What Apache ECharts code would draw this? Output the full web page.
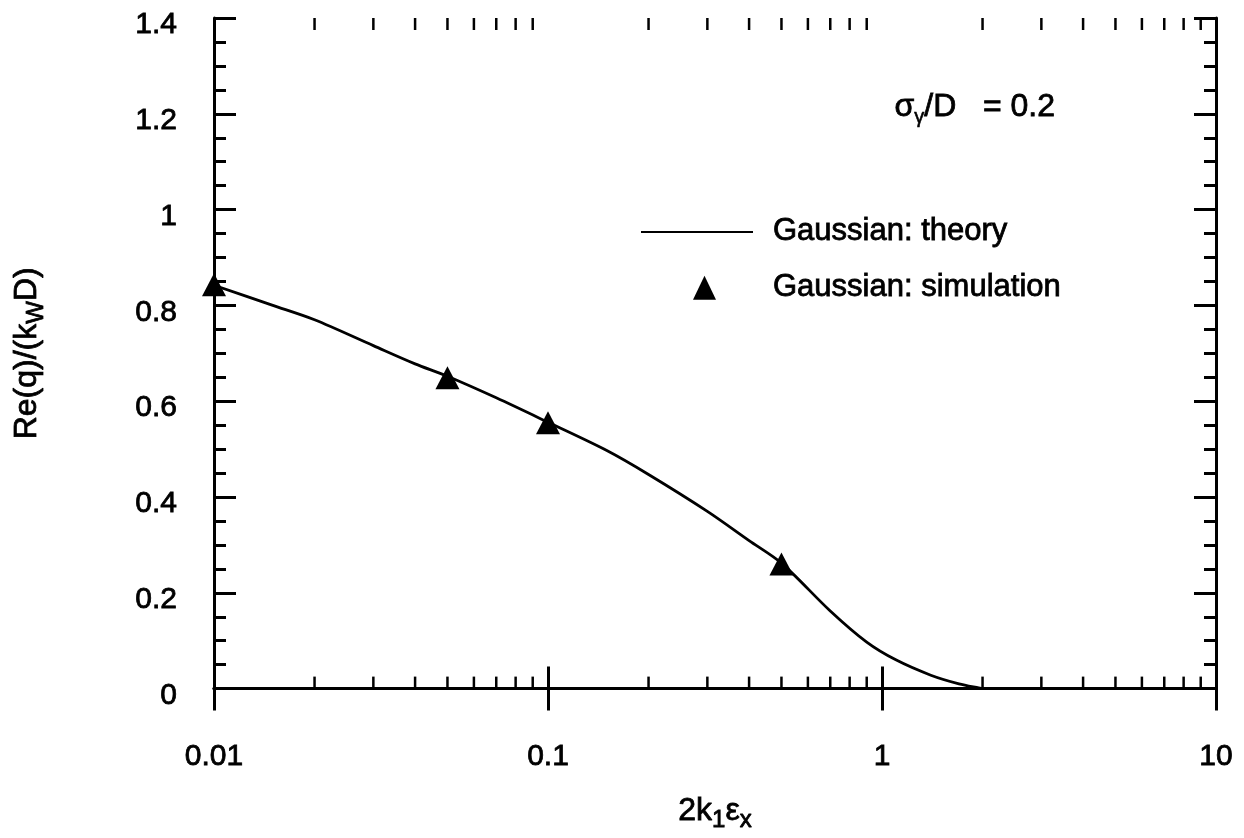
<!DOCTYPE html>
<html>
<head>
<meta charset="utf-8">
<script src="https://cdn.jsdelivr.net/npm/echarts@6/dist/echarts.min.js"></script>
<style>
  html, body { margin: 0; padding: 0; background: #fff; }
  #chart { width: 1244px; height: 838px; }
</style>
</head>
<body>
<div id="chart"></div>
<script>
// theory curve
const theoryX = [0.01, 0.015, 0.02, 0.03, 0.04, 0.05, 0.07, 0.1, 0.15, 0.2, 0.3, 0.4, 0.5, 0.7, 0.9, 1.1, 1.4, 1.7, 2.0];
const theoryY = [0.842, 0.80, 0.77, 0.716, 0.678, 0.652, 0.607, 0.556, 0.497, 0.447, 0.37, 0.309, 0.262, 0.162, 0.097, 0.06, 0.028, 0.01, 0.0];

// simulation points
const simX = [0.01, 0.05, 0.1, 0.5];
const simY = [0.843, 0.649, 0.555, 0.26];

const xTickLabels = ['0.01', '0.1', '1', '10'];
const yTickLabels = ['0', '0.2', '0.4', '0.6', '0.8', '1', '1.2', '1.4'];
// minor ticks of the log axis (2..9 in each decade)
const xMinorTicks = [0.02, 0.03, 0.04, 0.05, 0.06, 0.07, 0.08, 0.09,
  0.2, 0.3, 0.4, 0.5, 0.6, 0.7, 0.8, 0.9,
  2, 3, 4, 5, 6, 7, 8, 9];

const FONT = '"Liberation Sans", Arial, Helvetica, sans-serif';
const INK = '#000';
// thin outline so the text gets the heavy look of the scan
const heavy = { textBorderColor: INK, textBorderWidth: 0.8 };

// legend icon: a triangle inside an invisible 112x24 box so it is not stretched
const TRI_ICON = 'path://M0,0M112,24M52,24L63.5,0L75,24Z';

const chart = echarts.init(document.getElementById('chart'), null, { renderer: 'canvas' });

const axisLine = { show: true, lineStyle: { color: INK, width: 3 } };
const majorTick = { show: true, inside: true, length: 22, lineStyle: { color: INK, width: 3 } };
const minorTickY = { show: true, splitNumber: 4, length: 12, lineStyle: { color: INK, width: 3 } };

const xAxisBase = {
  type: 'log',
  logBase: 10,
  min: 0.01,
  max: 10,
  axisLine: axisLine,
  axisTick: majorTick,
  splitLine: { show: false },
};
const yAxisBase = {
  type: 'value',
  min: 0,
  max: 1.4,
  interval: 0.2,
  axisLine: axisLine,
  axisTick: majorTick,
  minorTick: minorTickY,
  splitLine: { show: false },
};

const option = {
  backgroundColor: '#fff',
  animation: false,
  textStyle: { fontFamily: FONT, color: INK },
  grid: { left: 214, right: 28, top: 18, bottom: 147 },
  legend: {
    data: [
      { name: 'Gaussian: theory', itemStyle: { opacity: 0 } },
      { name: 'Gaussian: simulation', icon: TRI_ICON, itemStyle: { color: INK, opacity: 1 } },
    ],
    orient: 'vertical',
    left: 640,
    top: 216,
    padding: 0,
    itemWidth: 112,
    itemHeight: 24,
    itemGap: 24,
    textStyle: { fontFamily: FONT, fontSize: 31, color: INK, padding: [0, 0, 0, 15], ...heavy },
  },
  xAxis: [
    {
      ...xAxisBase,
      position: 'bottom',
      axisLabel: {
        fontFamily: FONT, fontSize: 30, color: INK, margin: 53, ...heavy,
        formatter: (v, i) => xTickLabels[i] ?? '',
      },
      name: '{n|2k}{s|1}{n|ε}{s|x}',
      nameLocation: 'middle',
      nameGap: 102,
      nameTextStyle: {
        rich: {
          n: { fontFamily: FONT, fontSize: 32, color: INK, ...heavy },
          s: { fontFamily: FONT, fontSize: 24, color: INK, padding: [18, 0, 0, 0], ...heavy },
        },
      },
    },
    {
      ...xAxisBase,
      position: 'top',
      axisLabel: { show: false },
    },
  ],
  yAxis: [
    {
      ...yAxisBase,
      position: 'left',
      axisLabel: {
        margin: 37,
        formatter: (v, i) => '{t|' + (yTickLabels[i] ?? '') + '}',
        rich: {
          t: { fontFamily: FONT, fontSize: 30, color: INK, padding: [14, 0, 0, 0], ...heavy },
        },
      },
      name: '{n|Re(q)/(k}{s|W}{n|D)}',
      nameLocation: 'middle',
      nameGap: 166,
      nameTextStyle: {
        rich: {
          n: { fontFamily: FONT, fontSize: 32, color: INK, ...heavy },
          s: { fontFamily: FONT, fontSize: 24, color: INK, padding: [18, 0, 0, 0], ...heavy },
        },
      },
    },
    {
      ...yAxisBase,
      position: 'right',
      axisLabel: { show: false },
    },
  ],
  graphic: [
    {
      type: 'text',
      x: 1055,
      y: 107,
      style: {
        text: '{n|σ}{s|γ}{n|/D   = 0.2}',
        align: 'right',
        verticalAlign: 'middle',
        rich: {
          n: { fontFamily: FONT, fontSize: 32, fill: INK, stroke: INK, lineWidth: 0.8 },
          s: { fontFamily: FONT, fontSize: 20, fill: INK, stroke: INK, lineWidth: 0.6, padding: [20, 0, 0, 0] },
        },
      },
    },
  ],
  series: [
    {
      name: 'Gaussian: theory',
      type: 'line',
      xAxisIndex: 0,
      yAxisIndex: 0,
      symbol: 'none',
      smooth: 0.3,
      data: theoryX.map((x, i) => [x, theoryY[i]]),
      lineStyle: { color: INK, width: 2.8 },
      itemStyle: { color: INK },
      z: 3,
    },
    {
      name: 'Gaussian: simulation',
      type: 'scatter',
      xAxisIndex: 0,
      yAxisIndex: 0,
      symbol: 'triangle',
      symbolSize: [24, 23],
      data: simX.map((x, i) => [x, simY[i]]),
      itemStyle: { color: INK, opacity: 1 },
      z: 4,
    },
    {
      // log-axis minor ticks on bottom and top edges
      name: 'minorTicks',
      type: 'custom',
      xAxisIndex: 0,
      yAxisIndex: 0,
      silent: true,
      clip: false,
      data: xMinorTicks.map(v => [v]),
      encode: { x: 0 },
      renderItem: (params, api) => {
        const x = api.value(0);
        const b = api.coord([x, 0]);
        const t = api.coord([x, 1.4]);
        const style = { stroke: INK, lineWidth: 2.5 };
        return {
          type: 'group',
          children: [
            { type: 'line', shape: { x1: b[0], y1: b[1], x2: b[0], y2: b[1] - 12 }, style },
            { type: 'line', shape: { x1: t[0], y1: t[1], x2: t[0], y2: t[1] + 12 }, style },
          ],
        };
      },
      z: 2,
    },
  ],
};

chart.setOption(option);
</script>
</body>
</html>
